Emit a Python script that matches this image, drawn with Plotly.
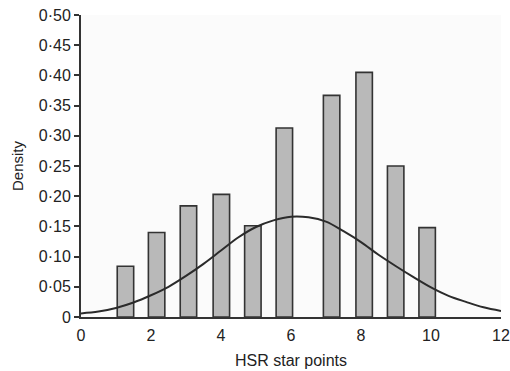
import plotly.graph_objects as go

# Histogram of HSR star points (density scale)
bin_mid = [1.27, 2.16, 3.07, 4.01, 4.91, 5.81, 7.16, 8.09, 8.99, 9.89]
density = [0.084, 0.140, 0.184, 0.203, 0.151, 0.313, 0.367, 0.405, 0.250, 0.148]

# Overlaid normal density curve
curve_x = [0, 0.5, 1, 1.5, 2, 2.5, 3, 3.5, 4, 4.5, 5, 5.5, 6, 6.5, 7, 7.5,
           8, 8.5, 9, 9.5, 10, 10.5, 11, 11.5, 12]
curve_y = [0.006, 0.009, 0.015, 0.024, 0.036, 0.050, 0.068, 0.088, 0.110,
           0.132, 0.149, 0.160, 0.166, 0.165, 0.158, 0.142, 0.124, 0.103,
           0.084, 0.066, 0.049, 0.035, 0.025, 0.016, 0.010]

x_ticks = [0, 2, 4, 6, 8, 10, 12]
y_ticks = [0, 0.05, 0.10, 0.15, 0.20, 0.25, 0.30, 0.35, 0.40, 0.45, 0.50]
y_ticktext = ["0", "0·05", "0·10", "0·15", "0·20", "0·25", "0·30",
              "0·35", "0·40", "0·45", "0·50"]

font_family = "Liberation Sans, Arial, sans-serif"

fig = go.Figure()
fig.add_trace(go.Bar(
    x=bin_mid, y=density, width=0.47,
    marker=dict(color="#b9b9b9", line=dict(color="#333333", width=1.6)),
    showlegend=False,
))
fig.add_trace(go.Scatter(
    x=curve_x, y=curve_y, mode="lines",
    line=dict(color="#2b2b2b", width=2, shape="spline"),
    showlegend=False,
))

fig.update_layout(
    width=510, height=371,
    margin=dict(l=81, r=9, t=15, b=54),
    paper_bgcolor="white",
    plot_bgcolor="#fbfbfb",
    font=dict(family=font_family, size=16, color="#222222"),
    xaxis=dict(
        range=[0, 12], tickvals=x_ticks, ticks="", ticklabelstandoff=3,
        showgrid=False, zeroline=False, automargin=False,
        showline=True, linecolor="#333333", linewidth=2,
        title=dict(text="HSR star points", standoff=12, font=dict(size=16)),
    ),
    yaxis=dict(
        range=[0, 0.5], tickvals=y_ticks, ticktext=y_ticktext,
        ticks="outside", ticklen=5, tickwidth=1.5, tickcolor="#333333",
        showgrid=False, zeroline=False, automargin=False,
        showline=True, linecolor="#333333", linewidth=2,
        title=dict(text="Density", standoff=12, font=dict(size=15)),
    ),
)

fig.write_html("out.html")
